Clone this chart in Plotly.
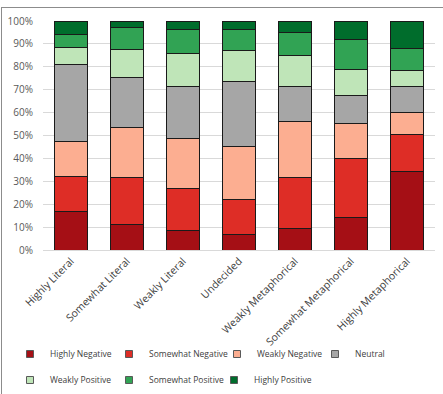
import plotly.graph_objects as go

categories = ["Highly Literal", "Somewhat Literal", "Weakly Literal", "Undecided",
              "Weakly Metaphorical", "Somewhat Metaphorical", "Highly Metaphorical"]

highly_negative = [16.9, 11.2, 8.6, 6.8, 9.5, 14.4, 34.1]
somewhat_negative = [15.1, 20.5, 18.2, 15.3, 22.2, 25.6, 16.4]
weakly_negative = [15.6, 22.0, 21.8, 22.9, 24.3, 15.2, 9.5]
neutral = [33.3, 21.7, 22.9, 28.4, 15.6, 12.2, 11.3]
weakly_positive = [7.5, 12.2, 14.5, 13.8, 13.3, 11.5, 7.0]
somewhat_positive = [5.8, 9.5, 10.4, 9.2, 10.0, 13.1, 9.8]
highly_positive = [5.8, 2.9, 3.6, 3.6, 5.1, 8.0, 11.9]

series_names = ["Highly Negative", "Somewhat Negative", "Weakly Negative", "Neutral",
                "Weakly Positive", "Somewhat Positive", "Highly Positive"]
series_values = [highly_negative, somewhat_negative, weakly_negative, neutral,
                 weakly_positive, somewhat_positive, highly_positive]
colors = ["#a50f15", "#de2d26", "#fcae91", "#a6a6a6", "#bfe5b8", "#31a354", "#006d2c"]

# legend entry positions in pixels (left x, center y)
legend_px = [(10, 354), (109, 354), (217, 354), (315, 354),
             (10, 380), (109, 380), (214, 380)]

PL, PT, PW, PH = 43, 21, 392, 229

fig = go.Figure()
layout_legends = {}
for i, (name, vals, color) in enumerate(zip(series_names, series_values, colors)):
    key = "legend" if i == 0 else f"legend{i + 1}"
    fig.add_trace(go.Bar(
        x=categories, y=vals, name=name, showlegend=False, legendgroup=name,
        marker=dict(color=color, line=dict(color="#1a1a1a", width=1)),
    ))
    # legend-only entry with a small square swatch
    fig.add_trace(go.Scatter(
        x=[None], y=[None], mode="markers", name=name, legend=key,
        legendgroup=name, showlegend=True,
        marker=dict(symbol="square", size=7, color=color,
                    line=dict(color="#595959", width=1)),
    ))
    lx, ly = legend_px[i]
    layout_legends[key] = dict(
        x=(lx - PL) / PW, y=(PT + PH - ly) / PH,
        xanchor="left", yanchor="middle", orientation="v",
        font=dict(family="Open Sans", size=8.5, color="#404040"),
        bgcolor="rgba(0,0,0,0)", itemwidth=30, borderwidth=0,
    )

fig.update_layout(
    barmode="stack",
    bargap=0.42,
    width=443, height=394,
    showlegend=True,
    margin=dict(l=PL, r=443 - PL - PW, t=PT, b=394 - PT - PH, autoexpand=False),
    paper_bgcolor="white", plot_bgcolor="white",
    font=dict(family="Open Sans", size=9, color="#404040"),
    xaxis=dict(tickangle=-45, tickfont=dict(size=10.5, color="#404040"),
               showline=True, linecolor="#d9d9d9", ticks=""),
    yaxis=dict(range=[0, 100], dtick=10, ticksuffix="%", showgrid=True,
               gridcolor="#d9d9d9", gridwidth=1, zeroline=False,
               tickfont=dict(size=10, color="#595959"),
               ticks="outside", ticklen=7, tickcolor="rgba(0,0,0,0)"),
    shapes=[
        dict(type="line", xref="paper", yref="paper",
             x0=(1 - PL) / PW, x1=(443 - PL) / PW,
             y0=(PT + PH - 7.5) / PH, y1=(PT + PH - 7.5) / PH,
             line=dict(color="#8c8c8c", width=1)),
        dict(type="line", xref="paper", yref="paper",
             x0=(1.5 - PL) / PW, x1=(1.5 - PL) / PW,
             y0=(PT + PH - 7.5) / PH, y1=(PT + PH - 400) / PH,
             line=dict(color="#8c8c8c", width=1)),
    ],
    **layout_legends,
)

fig.write_html("out.html")
